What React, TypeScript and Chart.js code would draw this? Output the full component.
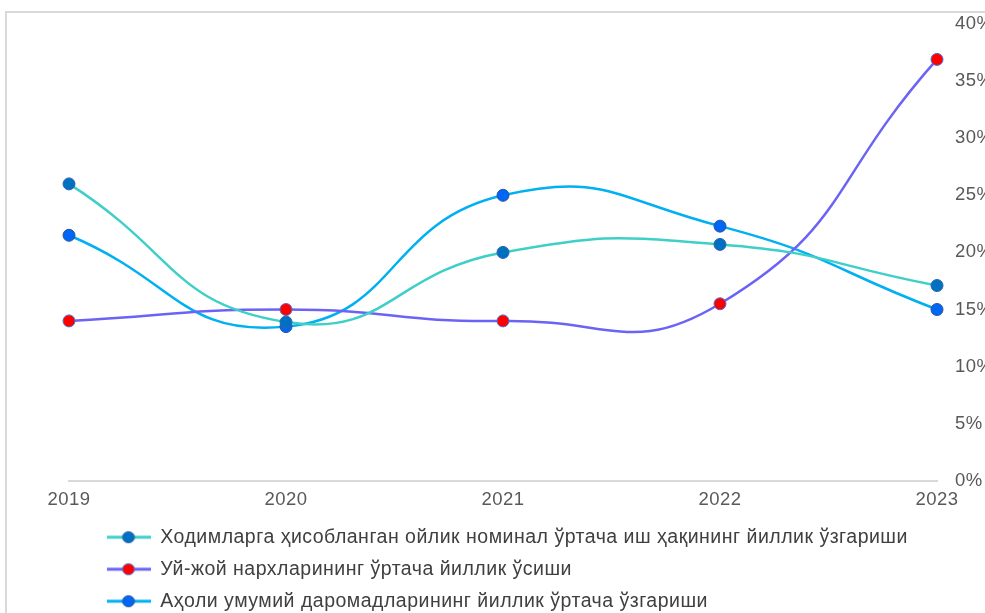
import React, { useEffect, useRef } from "react";
import { Chart, registerables } from "chart.js";

Chart.register(...registerables);

const categories = ["2019", "2020", "2021", "2022", "2023"];
const wagesGrowth = [26, 13.9, 20, 20.7, 17.1];
const housingGrowth = [14, 15, 14, 15.5, 36.9];
const incomeGrowth = [21.5, 13.5, 25, 22.3, 15];
const seriesNames = [
  "Ходимларга ҳисобланган ойлик номинал ўртача иш ҳақининг йиллик ўзгариши",
  "Уй-жой нархларининг ўртача йиллик ўсиши",
  "Аҳоли умумий даромадларининг йиллик ўртача ўзгариши",
];
const yTicks = [0, 5, 10, 15, 20, 25, 30, 35, 40];

const FONT = "'Liberation Sans', Arial, sans-serif";

function legendIcon(line: string, fill: string, border: string) {
  const c = document.createElement("canvas");
  c.width = 44;
  c.height = 14;
  const ctx = c.getContext("2d")!;
  ctx.strokeStyle = line;
  ctx.lineWidth = 3;
  ctx.beginPath();
  ctx.moveTo(0, 7);
  ctx.lineTo(44, 7);
  ctx.stroke();
  ctx.beginPath();
  ctx.ellipse(22, 7, 6, 5.5, 0, 0, Math.PI * 2);
  ctx.fillStyle = fill;
  ctx.fill();
  ctx.lineWidth = 1;
  ctx.strokeStyle = border;
  ctx.stroke();
  return c;
}

export default function App() {
  const ref = useRef<HTMLCanvasElement>(null);
  useEffect(() => {
    const styles = [
      { line: "#3FCFC9", fill: "#0070C0", border: "#2E64B0" },
      { line: "#6B63F5", fill: "#FF0000", border: "#4F6FD0" },
      { line: "#00B0F0", fill: "#0066F5", border: "#2F5597" },
    ];
    const values = [wagesGrowth, housingGrowth, incomeGrowth];
    const icons = styles.map((s) => legendIcon(s.line, s.fill, s.border));
    const setSpacing = (c: any) => {
      (c.ctx as any).letterSpacing = "0.5px";
    };
    const chart = new Chart(ref.current!, {
      type: "line",
      data: {
        labels: categories,
        datasets: values.map((v, i) => ({
          label: seriesNames[i],
          data: v,
          borderColor: styles[i].line,
          borderWidth: 2.5,
          backgroundColor: styles[i].fill,
          pointBackgroundColor: styles[i].fill,
          pointBorderColor: styles[i].border,
          pointBorderWidth: 1,
          pointRadius: 6,
          tension: 0.5,
          fill: false,
        })),
      },
      plugins: [
        {
          id: "tweaks",
          beforeInit: setSpacing,
          beforeUpdate: setSpacing,
          beforeDraw: setSpacing,
          afterLayout(c: any) {
            if (c.legend) {
              c.legend.left += 25;
              c.legend.right += 25;
              c.legend.top += 4;
              c.legend.bottom += 4;
            }
          },
        },
      ],
      options: {
        animation: false,
        responsive: false,
        maintainAspectRatio: false,
        layout: { padding: { left: 69, top: 24, right: 0, bottom: -4 } },
        scales: {
          x: {
            type: "category",
            offset: false,
            grid: { display: false },
            border: { display: true, color: "#D9D9D9", width: 2 },
            ticks: {
              color: "#595959",
              font: { family: FONT, size: 18.5 },
              padding: 0,
              maxRotation: 0,
            },
          },
          y: {
            position: "right",
            min: 0,
            max: 40,
            afterBuildTicks(scale: any) {
              scale.ticks = yTicks.map((v) => ({ value: v }));
            },
            afterFit(scale: any) {
              scale.width = 63;
            },
            grid: { display: false },
            border: { display: false },
            ticks: {
              color: "#595959",
              font: { family: FONT, size: 18.5 },
              padding: 10,
              callback: (v: any) => v + "%",
            },
          },
        },
        plugins: {
          legend: {
            position: "bottom",
            align: "start",
            labels: {
              usePointStyle: true,
              pointStyleWidth: 44,
              padding: 12.5,
              color: "#404040",
              font: { family: FONT, size: 19.5 },
              generateLabels: (c: any) =>
                c.data.datasets.map((d: any, i: number) => ({
                  text: d.label,
                  pointStyle: icons[i],
                  fillStyle: styles[i].fill,
                  strokeStyle: styles[i].line,
                  lineWidth: 0,
                  hidden: false,
                  datasetIndex: i,
                  fontColor: "#404040",
                })),
            },
          },
          tooltip: { enabled: false },
        },
      },
    } as any);
    return () => chart.destroy();
  }, []);

  return (
    <div
      style={{
        position: "fixed",
        left: 0,
        top: 0,
        width: 985,
        height: 613,
        overflow: "hidden",
        background: "#fff",
      }}
    >
      <div
        style={{
          position: "absolute",
          left: 5,
          top: 11,
          width: 1100,
          height: 700,
          border: "2px solid #D9D9D9",
          boxSizing: "border-box",
        }}
      />
      <canvas
        ref={ref}
        width={1000}
        height={613}
        style={{ position: "absolute", left: 0, top: 0, width: 1000, height: 613 }}
      />
    </div>
  );
}
